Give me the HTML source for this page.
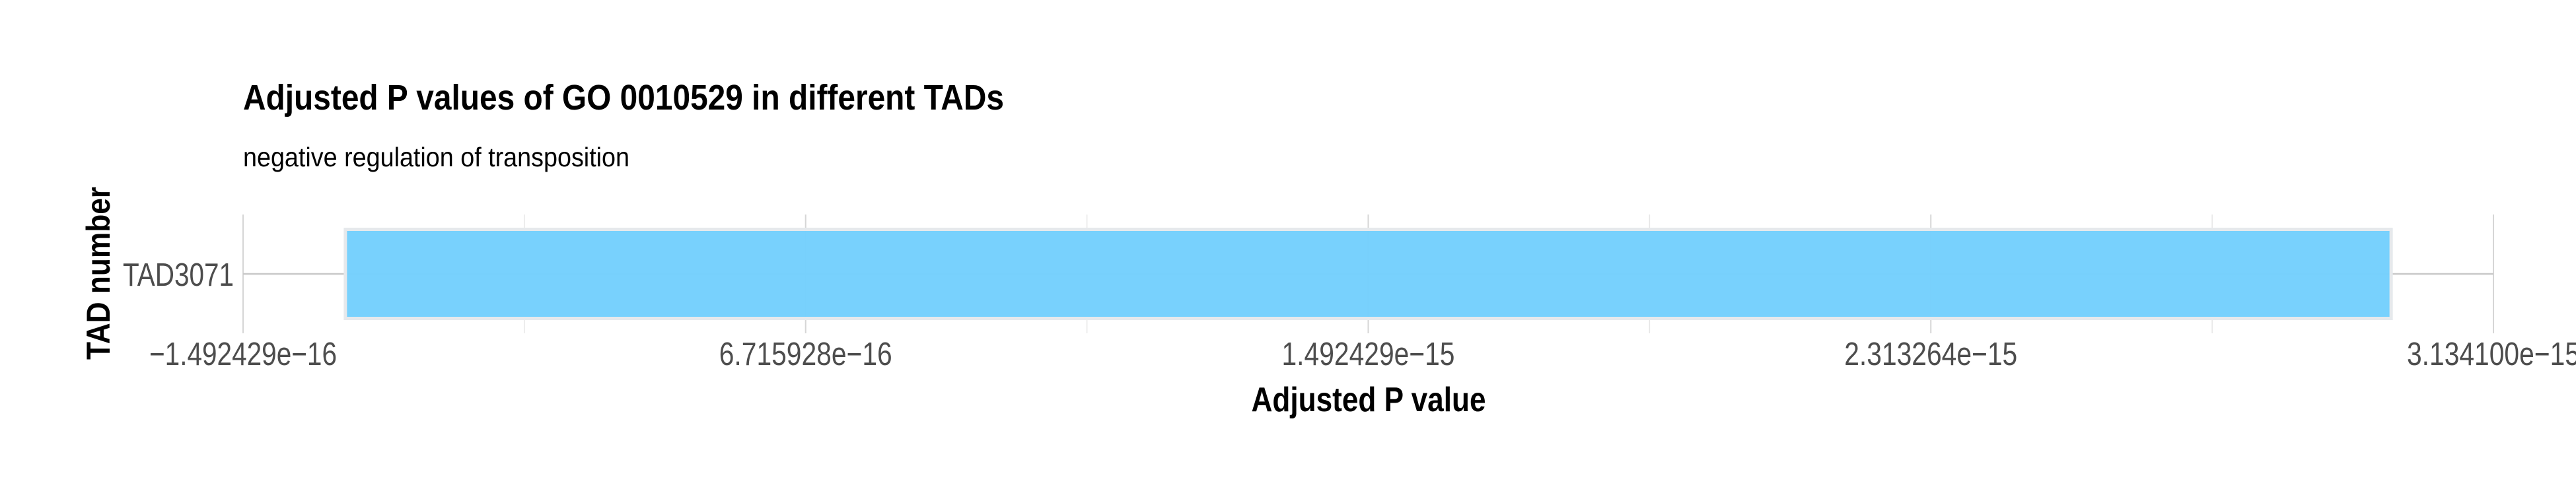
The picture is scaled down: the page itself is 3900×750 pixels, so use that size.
<!DOCTYPE html>
<html><head><meta charset="utf-8"><style>
html,body{margin:0;padding:0;background:#fff;}
svg{display:block;font-family:"Liberation Sans",Arial,sans-serif;}
</style></head><body>
<svg id="chart" width="3900" height="750" viewBox="0 0 3900 750" xmlns="http://www.w3.org/2000/svg">
<rect x="0" y="0" width="3900" height="750" fill="#fff"/>
<text x="368" y="166" font-size="54" font-weight="bold" fill="#000" textLength="1152" lengthAdjust="spacingAndGlyphs">Adjusted P values of GO 0010529 in different TADs</text>
<text x="368" y="252" font-size="41" fill="#000" textLength="585" lengthAdjust="spacingAndGlyphs">negative regulation of transposition</text>
<g id="grid"></g>
<g id="bars"></g>
<g id="xticks"></g>
<g id="yticks"></g>
<text x="2072" y="623" font-size="52" font-weight="bold" fill="#000" text-anchor="middle" textLength="355" lengthAdjust="spacingAndGlyphs">Adjusted P value</text>
<text transform="translate(166,414) rotate(-90)" font-size="50" font-weight="bold" fill="#000" text-anchor="middle" textLength="262" lengthAdjust="spacingAndGlyphs">TAD number</text>
</svg>
<script>
const categories = ["TAD3071"];
const values = [2.984858e-15];
const tickValues = [-1.492429e-16, 6.715928e-16, 1.492429e-15, 2.313264e-15, 3.134100e-15];
const tickLabels = ["\u22121.492429e\u221216", "6.715928e\u221216", "1.492429e\u221215", "2.313264e\u221215", "3.134100e\u221215"];

const NS = "http://www.w3.org/2000/svg";
const PL = 368, PR = 3775, PT = 325, PB = 505;
const maxV = Math.max(...values);
const dMin = -0.05 * maxV, dMax = 1.05 * maxV;
function xScale(v){ return PL + (v - dMin) / (dMax - dMin) * (PR - PL); }
const band = (PB - PT) / categories.length;
function yScale(i){ return PT + band * (i + 0.5); }
function mk(tag, attrs, parent){ const e = document.createElementNS(NS, tag); for (const k in attrs) e.setAttribute(k, attrs[k]); parent.appendChild(e); return e; }

const grid = document.getElementById('grid');
for (let i = 0; i < tickValues.length; i++) {
  const x = xScale(tickValues[i]);
  const l = mk('line', {x1:x, x2:x, y1:PT, y2:PB, stroke:'#d6d6d6', 'stroke-width':2}, grid);
  
  
  if (i < tickValues.length - 1) {
    const xm = xScale((tickValues[i] + tickValues[i+1]) / 2);
    const m = mk('line', {x1:xm, x2:xm, y1:PT, y2:PB, stroke:'#e6e6e6', 'stroke-width':1.5}, grid);
    
    
  }
}
categories.forEach((c, i) => {
  const y = yScale(i);
  const h = mk('line', {x1:PL, x2:PR, y1:y, y2:y, stroke:'#c8c8c8', 'stroke-width':2.5}, grid);
  
  
});

const bars = document.getElementById('bars');
const bh = band * 0.75;
values.forEach((v, i) => {
  const x0 = xScale(0), x1 = xScale(v);
  const r = mk('rect', {x:Math.min(x0,x1), y:yScale(i) - bh/2, width:Math.abs(x1-x0), height:bh, fill:'#74cffd', 'fill-opacity':0.97, stroke:'#e6e9ec', 'stroke-width':5}, bars);
  
  
});

const xt = document.getElementById('xticks');
tickValues.forEach((v, i) => {
  const t = mk('text', {x:xScale(v), y:553, 'font-size':49, fill:'#4d4d4d', 'text-anchor':'middle', textLength:(i===0?284:262), lengthAdjust:'spacingAndGlyphs'}, xt);
  t.textContent = tickLabels[i];
  
  
});
const yt = document.getElementById('yticks');
categories.forEach((c, i) => {
  const t = mk('text', {x:354, y:yScale(i) + 18, 'font-size':49, fill:'#4d4d4d', 'text-anchor':'end', textLength:168, lengthAdjust:'spacingAndGlyphs'}, yt);
  t.textContent = c;
  
  
});
</script>
</body></html>
